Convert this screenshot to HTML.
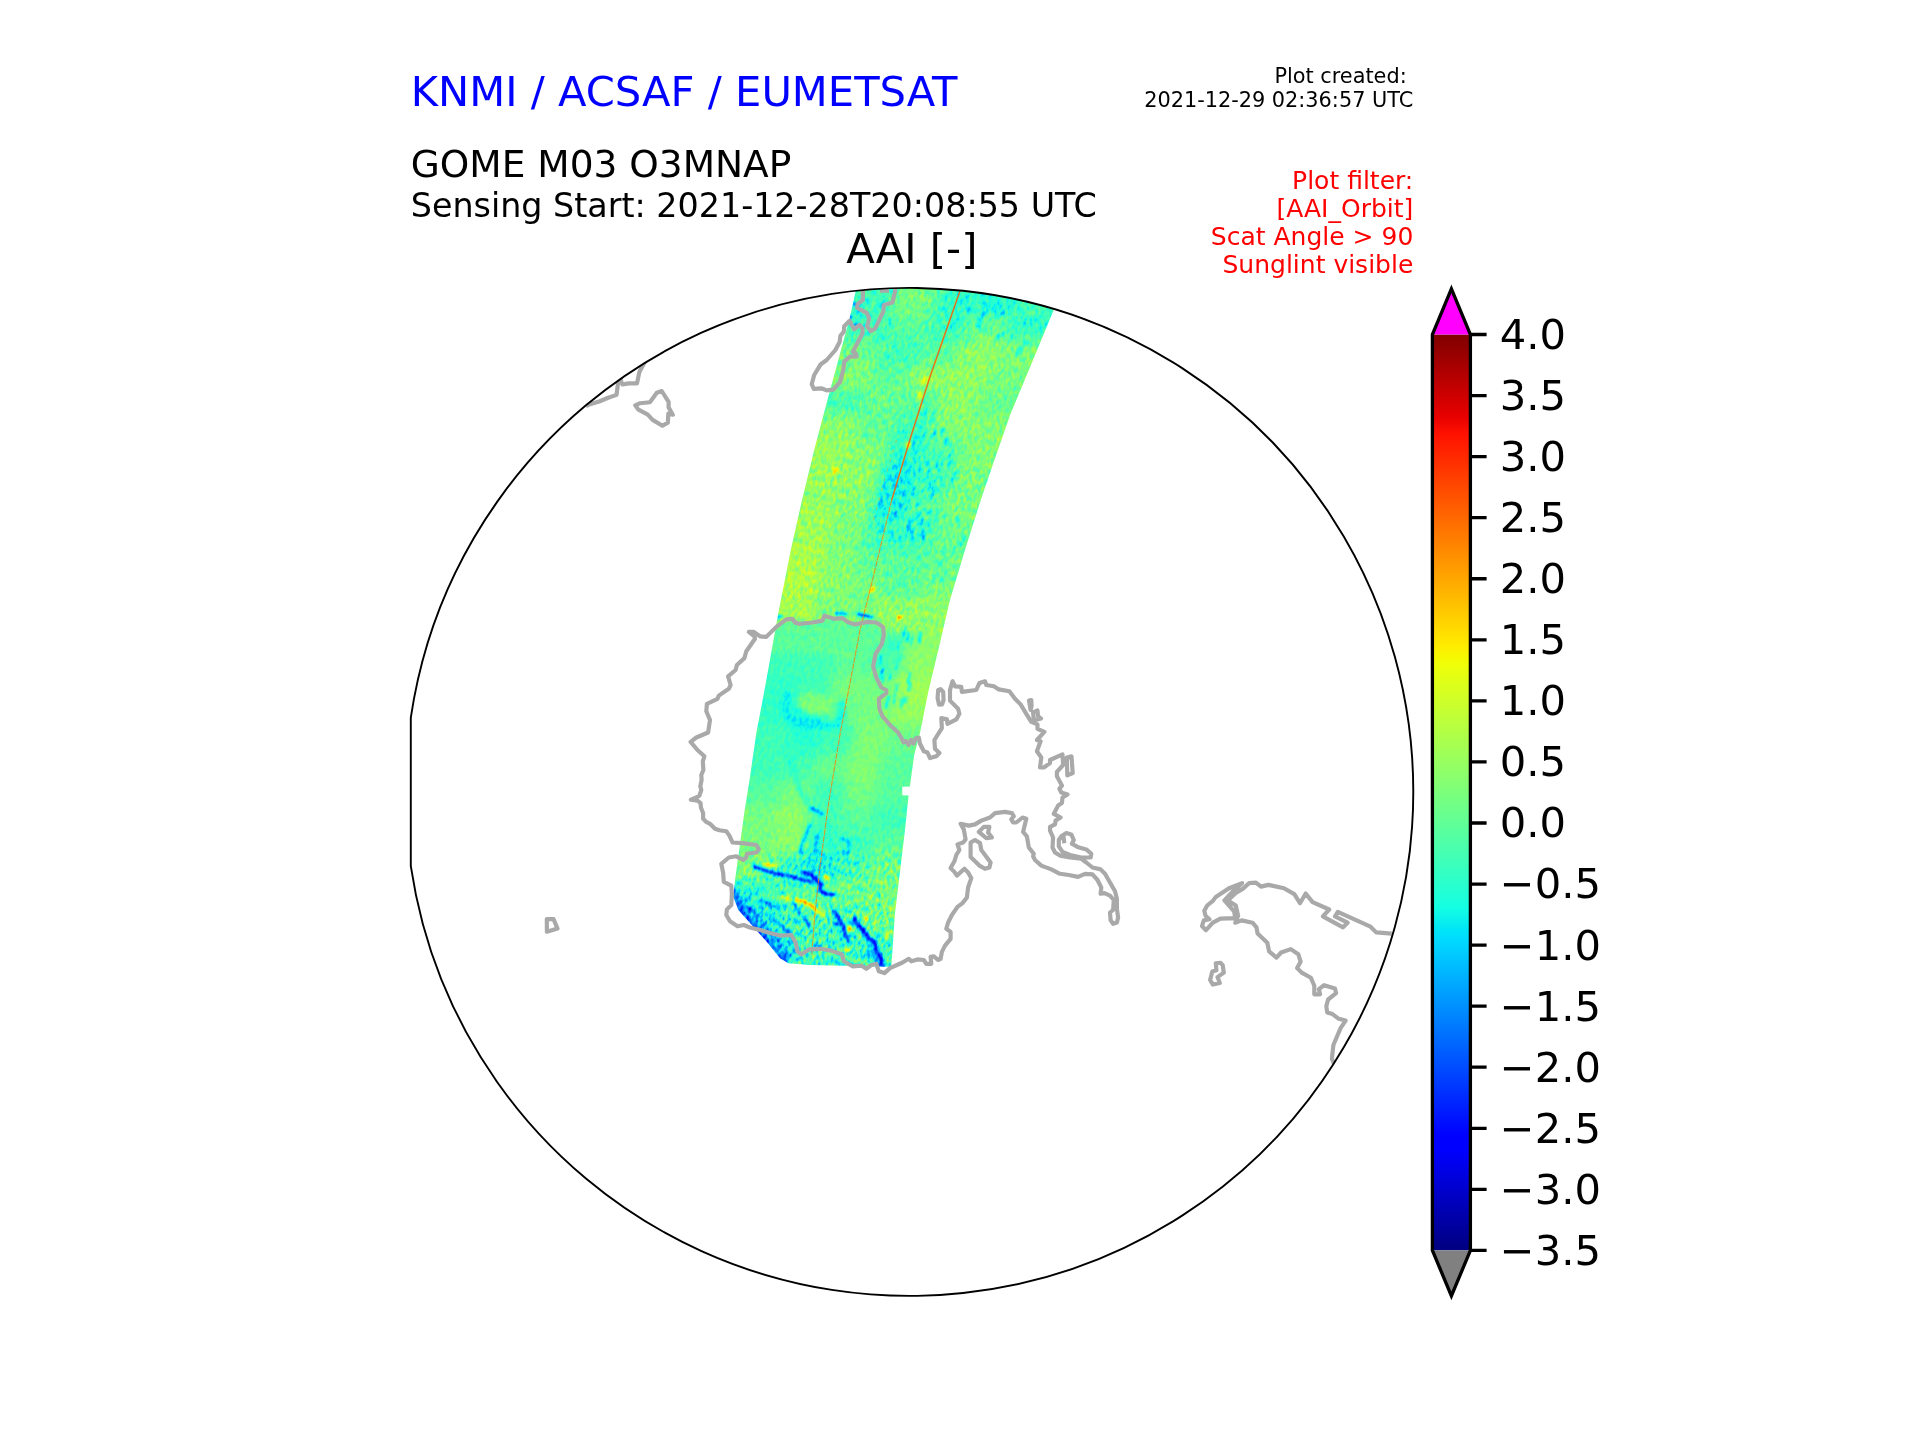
<!DOCTYPE html>
<html lang="en"><head><meta charset="utf-8"><title>AAI [-]</title>
<style>
html,body{margin:0;padding:0;background:#fff;}
body{width:1920px;height:1440px;overflow:hidden;}
svg{display:block;}
text{font-family:"DejaVu Sans","Liberation Sans",sans-serif;}
</style></head><body>
<svg width="1920" height="1440" viewBox="0 0 1920 1440">
<defs>
<linearGradient id="jet" x1="0" y1="0" x2="0" y2="1"><stop offset="0.0000" stop-color="#800000"/><stop offset="0.0900" stop-color="#e80000"/><stop offset="0.1100" stop-color="#ff1300"/><stop offset="0.3400" stop-color="#ffec00"/><stop offset="0.3500" stop-color="#f7f600"/><stop offset="0.3600" stop-color="#efff08"/><stop offset="0.6250" stop-color="#15ffe2"/><stop offset="0.6500" stop-color="#00e5f7"/><stop offset="0.6600" stop-color="#00dbff"/><stop offset="0.8750" stop-color="#0000ff"/><stop offset="0.8900" stop-color="#0000ff"/><stop offset="1.0000" stop-color="#000080"/></linearGradient>
<clipPath id="mapclip"><path d="M410.8 717.6 A504.0 504.0 0 1 1 410.8 866.2 Z"/></clipPath>
<clipPath id="swclip"><path d="M866.0 250.0 L855.3 292.5 L850.0 316.7 L828.3 396.7 L815.0 446.7 L802.0 500.0 L790.8 550.0 L778.3 613.3 L771.7 650.0 L764.2 691.7 L756.3 733.0 L750.0 776.7 L744.2 813.3 L739.2 850.0 L735.0 880.0 L733.3 896.7 L738.3 910.0 L753.3 926.7 L766.7 941.7 L780.0 958.3 L788.3 963.3 L810.0 965.0 L843.3 965.8 L881.7 966.7 L891.3 966.7 L895.0 913.3 L900.0 871.7 L905.0 830.0 L908.6 795.6 L902.3 795.3 L902.3 786.7 L909.9 786.4 L914.2 755.0 L920.0 733.0 L928.3 691.7 L938.3 650.0 L950.0 600.0 L965.0 550.0 L980.8 500.0 L993.3 463.3 L1010.8 413.3 L1031.7 363.3 L1053.7 310.0 L1078.0 250.0 Z"/></clipPath>
<filter id="jetmap" filterUnits="userSpaceOnUse" x="560" y="180" width="680" height="900" color-interpolation-filters="sRGB">
<feColorMatrix in="SourceGraphic" type="matrix" values="1 0 0 0 0  1 0 0 0 0  1 0 0 0 0  0 0 0 0 1" result="V"/>
<feColorMatrix in="SourceGraphic" type="matrix" values="0 1 0 0 0  0 1 0 0 0  0 1 0 0 0  0 0 0 0 1" result="A"/>
<feTurbulence type="fractalNoise" baseFrequency="0.33 0.17" numOctaves="2" seed="7" result="n"/>
<feColorMatrix in="n" type="matrix" values="1 0 0 0 0  1 0 0 0 0  1 0 0 0 0  0 0 0 0 1" result="ng"/>
<feComposite in="V" in2="A" operator="arithmetic" k1="0" k2="1" k3="-0.35" k4="0" result="s1"/>
<feComposite in="A" in2="ng" operator="arithmetic" k1="1" k2="0" k3="0" k4="0" result="nA"/>
<feComposite in="s1" in2="nA" operator="arithmetic" k1="0" k2="1" k3="0.7" k4="0" result="s"/>
<feComponentTransfer in="s"><feFuncR type="table" tableValues="0.000 0.000 0.000 0.000 0.000 0.000 0.000 0.000 0.000 0.000 0.000 0.000 0.000 0.000 0.000 0.000 0.000 0.000 0.000 0.000 0.000 0.000 0.000 0.049 0.100 0.151 0.202 0.253 0.305 0.356 0.407 0.458 0.509 0.561 0.612 0.663 0.714 0.765 0.817 0.868 0.919 0.970 1.000 1.000 1.000 1.000 1.000 1.000 1.000 1.000 1.000 1.000 1.000 1.000 1.000 1.000 1.000 0.933 0.861 0.789 0.716 0.644 0.572 0.500"/><feFuncG type="table" tableValues="0.000 0.000 0.000 0.000 0.000 0.000 0.000 0.000 0.008 0.071 0.135 0.198 0.262 0.325 0.389 0.452 0.516 0.579 0.643 0.706 0.770 0.833 0.897 0.960 1.000 1.000 1.000 1.000 1.000 1.000 1.000 1.000 1.000 1.000 1.000 1.000 1.000 1.000 1.000 1.000 1.000 0.960 0.901 0.842 0.784 0.725 0.666 0.607 0.549 0.490 0.431 0.372 0.313 0.255 0.196 0.137 0.078 0.019 0.000 0.000 0.000 0.000 0.000 0.000"/><feFuncB type="table" tableValues="0.500 0.572 0.644 0.716 0.789 0.861 0.933 1.000 1.000 1.000 1.000 1.000 1.000 1.000 1.000 1.000 1.000 1.000 1.000 1.000 1.000 1.000 0.970 0.919 0.868 0.817 0.765 0.714 0.663 0.612 0.561 0.509 0.458 0.407 0.356 0.305 0.253 0.202 0.151 0.100 0.049 0.000 0.000 0.000 0.000 0.000 0.000 0.000 0.000 0.000 0.000 0.000 0.000 0.000 0.000 0.000 0.000 0.000 0.000 0.000 0.000 0.000 0.000 0.000"/><feFuncA type="linear" slope="0" intercept="1"/></feComponentTransfer>
</filter>
<filter id="bl6" filterUnits="userSpaceOnUse" x="660" y="230" width="480" height="780"><feGaussianBlur stdDeviation="6"/></filter>
<filter id="bl1" filterUnits="userSpaceOnUse" x="660" y="230" width="480" height="780"><feGaussianBlur stdDeviation="1"/></filter>
<filter id="bl3" filterUnits="userSpaceOnUse" x="660" y="230" width="480" height="780"><feGaussianBlur stdDeviation="2.5"/></filter>
</defs>
<rect width="1920" height="1440" fill="#fff"/>
<g clip-path="url(#mapclip)">
<g clip-path="url(#swclip)"><g transform="rotate(14 900 630)" filter="url(#jetmap)"><g transform="rotate(-14 900 630)"><g filter="url(#bl6)"><rect x="460" y="100" width="880" height="1060" fill="#7e5900"/><path d="M799 265 L905 265 L898 290 L794 290 Z" fill="#6d5900"/><path d="M904 265 L947 265 L939 290 L897 290 Z" fill="#7e5900"/><path d="M946 265 L989 265 L980 290 L938 290 Z" fill="#695900"/><path d="M988 265 L1030 265 L1021 290 L979 290 Z" fill="#665900"/><path d="M1030 265 L1135 265 L1124 290 L1021 290 Z" fill="#6d5900"/><path d="M794 290 L898 290 L891 316 L790 316 Z" fill="#6d5900"/><path d="M897 290 L939 290 L931 316 L891 316 Z" fill="#7e5900"/><path d="M938 290 L980 290 L972 316 L931 316 Z" fill="#695900"/><path d="M979 290 L1021 290 L1012 316 L971 316 Z" fill="#665900"/><path d="M1021 290 L1124 290 L1113 316 L1011 316 Z" fill="#6d5900"/><path d="M790 315 L891 315 L884 340 L784 340 Z" fill="#6d5900"/><path d="M891 315 L931 315 L923 340 L883 340 Z" fill="#745900"/><path d="M931 315 L972 315 L963 340 L923 340 Z" fill="#6d5900"/><path d="M971 315 L1012 315 L1002 340 L962 340 Z" fill="#7a5900"/><path d="M1011 315 L1113 315 L1101 340 L1002 340 Z" fill="#695900"/><path d="M784 340 L884 340 L876 366 L779 366 Z" fill="#7a5900"/><path d="M883 340 L923 340 L915 366 L876 366 Z" fill="#6d5900"/><path d="M923 340 L963 340 L954 366 L915 366 Z" fill="#745900"/><path d="M962 340 L1002 340 L993 366 L953 366 Z" fill="#855900"/><path d="M1002 340 L1101 340 L1090 366 L992 366 Z" fill="#815900"/><path d="M779 365 L876 365 L869 390 L773 390 Z" fill="#815900"/><path d="M876 365 L915 365 L907 390 L868 390 Z" fill="#775900"/><path d="M915 365 L954 365 L945 390 L906 390 Z" fill="#855900"/><path d="M953 365 L993 365 L983 390 L944 390 Z" fill="#855900"/><path d="M992 365 L1090 365 L1078 390 L982 390 Z" fill="#7e5900"/><path d="M773 390 L869 390 L861 416 L767 416 Z" fill="#705900"/><path d="M868 390 L907 390 L899 416 L861 416 Z" fill="#7a5900"/><path d="M906 390 L945 390 L936 416 L898 416 Z" fill="#745900"/><path d="M944 390 L983 390 L973 416 L935 416 Z" fill="#855900"/><path d="M982 390 L1078 390 L1067 416 L973 416 Z" fill="#7a5900"/><path d="M767 415 L861 415 L854 440 L761 440 Z" fill="#855900"/><path d="M861 415 L899 415 L891 440 L854 440 Z" fill="#775900"/><path d="M898 415 L936 415 L928 440 L891 440 Z" fill="#6d5900"/><path d="M935 415 L973 415 L965 440 L928 440 Z" fill="#815900"/><path d="M973 415 L1067 415 L1057 440 L965 440 Z" fill="#815900"/><path d="M761 440 L854 440 L847 466 L756 466 Z" fill="#885900"/><path d="M854 440 L891 440 L884 466 L847 466 Z" fill="#815900"/><path d="M891 440 L928 440 L920 466 L883 466 Z" fill="#665900"/><path d="M928 440 L965 440 L957 466 L920 466 Z" fill="#745900"/><path d="M965 440 L1057 440 L1048 466 L956 466 Z" fill="#815900"/><path d="M756 465 L847 465 L841 490 L751 490 Z" fill="#886900"/><path d="M847 465 L884 465 L877 490 L840 490 Z" fill="#856900"/><path d="M883 465 L920 465 L913 490 L876 490 Z" fill="#5f6900"/><path d="M920 465 L957 465 L949 490 L912 490 Z" fill="#706900"/><path d="M956 465 L1048 465 L1039 490 L948 490 Z" fill="#7e6900"/><path d="M751 490 L841 490 L833 520 L744 520 Z" fill="#886900"/><path d="M840 490 L877 490 L869 520 L833 520 Z" fill="#816900"/><path d="M876 490 L913 490 L904 520 L868 520 Z" fill="#636900"/><path d="M912 490 L949 490 L940 520 L904 520 Z" fill="#746900"/><path d="M948 490 L1039 490 L1028 520 L939 520 Z" fill="#7e6900"/><path d="M744 520 L833 520 L826 550 L739 550 Z" fill="#8b5900"/><path d="M833 520 L869 520 L861 550 L826 550 Z" fill="#805900"/><path d="M868 520 L904 520 L896 550 L860 550 Z" fill="#6d5900"/><path d="M904 520 L940 520 L931 550 L895 550 Z" fill="#6d5900"/><path d="M939 520 L1028 520 L1018 550 L930 550 Z" fill="#7a5900"/><path d="M739 550 L826 550 L821 576 L734 576 Z" fill="#8f5900"/><path d="M826 550 L861 550 L855 576 L820 576 Z" fill="#815900"/><path d="M860 550 L896 550 L889 576 L855 576 Z" fill="#775900"/><path d="M895 550 L931 550 L924 576 L889 576 Z" fill="#745900"/><path d="M930 550 L1018 550 L1009 576 L923 576 Z" fill="#7a5900"/><path d="M734 575 L821 575 L815 600 L730 600 Z" fill="#8f5900"/><path d="M820 575 L855 575 L849 600 L815 600 Z" fill="#835900"/><path d="M855 575 L889 575 L883 600 L849 600 Z" fill="#7e5900"/><path d="M889 575 L924 575 L917 600 L882 600 Z" fill="#745900"/><path d="M923 575 L1009 575 L1001 600 L916 600 Z" fill="#7e5900"/><path d="M730 600 L815 600 L810 626 L726 626 Z" fill="#8b5900"/><path d="M815 600 L849 600 L844 626 L810 626 Z" fill="#835900"/><path d="M849 600 L883 600 L877 626 L843 626 Z" fill="#775900"/><path d="M882 600 L917 600 L911 626 L877 626 Z" fill="#815900"/><path d="M916 600 L1001 600 L995 626 L911 626 Z" fill="#855900"/><path d="M726 625 L810 625 L806 650 L722 650 Z" fill="#702b00"/><path d="M810 625 L844 625 L839 650 L805 650 Z" fill="#7a2b00"/><path d="M843 625 L877 625 L872 650 L838 650 Z" fill="#812b00"/><path d="M877 625 L911 625 L905 650 L872 650 Z" fill="#702b00"/><path d="M911 625 L995 625 L989 650 L905 650 Z" fill="#852b00"/><path d="M722 650 L806 650 L801 676 L718 676 Z" fill="#6d2b00"/><path d="M805 650 L839 650 L834 676 L800 676 Z" fill="#6e2b00"/><path d="M838 650 L872 650 L867 676 L833 676 Z" fill="#772b00"/><path d="M872 650 L905 650 L900 676 L866 676 Z" fill="#702b00"/><path d="M905 650 L989 650 L982 676 L899 676 Z" fill="#852b00"/><path d="M718 675 L801 675 L796 700 L713 700 Z" fill="#692b00"/><path d="M800 675 L834 675 L829 700 L795 700 Z" fill="#6d2b00"/><path d="M833 675 L867 675 L862 700 L828 700 Z" fill="#7e2b00"/><path d="M866 675 L900 675 L894 700 L861 700 Z" fill="#7e2b00"/><path d="M899 675 L982 675 L976 700 L894 700 Z" fill="#8b2b00"/><path d="M713 700 L796 700 L791 726 L709 726 Z" fill="#692b00"/><path d="M795 700 L829 700 L824 726 L791 726 Z" fill="#5f2b00"/><path d="M828 700 L862 700 L857 726 L823 726 Z" fill="#7a2b00"/><path d="M861 700 L894 700 L889 726 L856 726 Z" fill="#7e2b00"/><path d="M894 700 L976 700 L971 726 L889 726 Z" fill="#882b00"/><path d="M709 725 L791 725 L786 756 L705 756 Z" fill="#6d2b00"/><path d="M791 725 L824 725 L818 756 L785 756 Z" fill="#662b00"/><path d="M823 725 L857 725 L850 756 L818 756 Z" fill="#6d2b00"/><path d="M856 725 L889 725 L882 756 L850 756 Z" fill="#812b00"/><path d="M889 725 L971 725 L963 756 L882 756 Z" fill="#7a2b00"/><path d="M705 755 L786 755 L782 780 L701 780 Z" fill="#6d2b00"/><path d="M785 755 L818 755 L814 780 L782 780 Z" fill="#702b00"/><path d="M818 755 L850 755 L847 780 L814 780 Z" fill="#7a2b00"/><path d="M850 755 L882 755 L879 780 L846 780 Z" fill="#812b00"/><path d="M882 755 L963 755 L960 780 L878 780 Z" fill="#742b00"/><path d="M701 780 L782 780 L778 806 L697 806 Z" fill="#742b00"/><path d="M782 780 L814 780 L811 806 L778 806 Z" fill="#7e2b00"/><path d="M814 780 L847 780 L843 806 L810 806 Z" fill="#6d2b00"/><path d="M846 780 L879 780 L876 806 L843 806 Z" fill="#7e2b00"/><path d="M878 780 L960 780 L957 806 L875 806 Z" fill="#742b00"/><path d="M697 805 L778 805 L775 830 L693 830 Z" fill="#7e3300"/><path d="M778 805 L811 805 L808 830 L775 830 Z" fill="#853300"/><path d="M810 805 L843 805 L840 830 L807 830 Z" fill="#6d3300"/><path d="M843 805 L876 805 L873 830 L840 830 Z" fill="#743300"/><path d="M875 805 L957 805 L954 830 L872 830 Z" fill="#6d3300"/><path d="M693 830 L775 830 L772 856 L689 856 Z" fill="#7e3b00"/><path d="M775 830 L808 830 L804 856 L771 856 Z" fill="#853b00"/><path d="M807 830 L840 830 L837 856 L804 856 Z" fill="#693b00"/><path d="M840 830 L873 830 L870 856 L837 856 Z" fill="#6d3b00"/><path d="M872 830 L954 830 L952 856 L869 856 Z" fill="#743b00"/><path d="M689 855 L772 855 L768 880 L686 880 Z" fill="#7e8c00"/><path d="M771 855 L804 855 L801 880 L768 880 Z" fill="#698c00"/><path d="M804 855 L837 855 L834 880 L801 880 Z" fill="#5c8c00"/><path d="M837 855 L870 855 L867 880 L833 880 Z" fill="#6d8c00"/><path d="M869 855 L952 855 L949 880 L866 880 Z" fill="#7a8c00"/><path d="M686 880 L768 880 L766 906 L683 906 Z" fill="#668c00"/><path d="M768 880 L801 880 L798 906 L765 906 Z" fill="#708c00"/><path d="M801 880 L834 880 L831 906 L798 906 Z" fill="#748c00"/><path d="M833 880 L867 880 L864 906 L831 906 Z" fill="#7a8c00"/><path d="M866 880 L949 880 L946 906 L863 906 Z" fill="#7e8c00"/><path d="M683 905 L766 905 L763 930 L681 930 Z" fill="#58b200"/><path d="M765 905 L798 905 L796 930 L763 930 Z" fill="#69b200"/><path d="M798 905 L831 905 L829 930 L796 930 Z" fill="#70b200"/><path d="M831 905 L864 905 L862 930 L828 930 Z" fill="#6db200"/><path d="M863 905 L946 905 L944 930 L861 930 Z" fill="#7ab200"/><path d="M681 930 L763 930 L759 976 L676 976 Z" fill="#4eb200"/><path d="M763 930 L796 930 L792 976 L759 976 Z" fill="#63b200"/><path d="M796 930 L829 930 L825 976 L792 976 Z" fill="#6db200"/><path d="M828 930 L862 930 L858 976 L825 976 Z" fill="#69b200"/><path d="M861 930 L944 930 L941 976 L858 976 Z" fill="#6db200"/></g>
<g filter="url(#bl3)"><path d="M772.0 598.0 L815.0 598.0 L815.0 632.0 L766.0 632.0 Z" fill="#8c5900" opacity="0.90"/><path d="M815.0 598.0 L872.0 598.0 L868.0 632.0 L815.0 632.0 Z" fill="#7e5900" opacity="0.90"/><path d="M872.0 598.0 L960.0 598.0 L950.0 632.0 L868.0 632.0 Z" fill="#855900" opacity="0.90"/><path d="M760.0 652.0 L776.3 626.9 L786.3 619.4 L792.5 618.8 L795.0 622.5 L812.5 622.5 L822.5 620.6 L824.4 615.6 L833.8 618.8 L842.5 618.1 L847.5 621.9 L855.0 624.4 L867.5 621.9 L876.3 622.5 L883.1 626.9 L883.8 635.0 L881.9 643.8 L877.0 652.0 Z" fill="#752b00" opacity="0.95"/><path d="M742.0 898.0 L752.0 912.0 L765.0 926.0 L777.0 940.0 L790.0 956.0" fill="none" stroke="#3d9900" stroke-width="7.0" stroke-linecap="round" stroke-linejoin="round" opacity="0.70"/><path d="M787.5 694.0 L783.8 710.0 L792.5 720.0 L805.0 725.0 L817.5 724.0 L830.0 726.3 L838.8 723.8 L841.5 713.0 L841.0 704.0" fill="none" stroke="#572b00" stroke-width="7.0" stroke-linecap="round" stroke-linejoin="round" opacity="0.90"/><ellipse cx="815.0" cy="704.0" rx="18.0" ry="11.0" fill="#832b00" opacity="0.90" transform="rotate(10 815.0 704.0)"/><path d="M790.0 760.0 L800.0 790.0 L812.0 810.0" fill="none" stroke="#553300" stroke-width="3.5" stroke-linecap="round" stroke-linejoin="round" opacity="0.80"/></g>
<g filter="url(#bl1)"><path d="M753.7 866.5 L764.7 870.2 L775.7 873.8 L792.2 876.6 L803.2 880.3 L812.0 881.5" fill="none" stroke="#295900" stroke-width="3.6" stroke-linecap="round" stroke-linejoin="round" opacity="1.00"/><path d="M803.2 872.0 L810.5 874.8 L816.0 879.3 L820.6 883.9 L819.7 890.3 L825.2 894.0 L833.4 894.5" fill="none" stroke="#1b5900" stroke-width="3.6" stroke-linecap="round" stroke-linejoin="round" opacity="1.00"/><path d="M764.7 864.2 L776.6 866.0" fill="none" stroke="#b15900" stroke-width="3.0" stroke-linecap="round" stroke-linejoin="round" opacity="1.00"/><ellipse cx="826.5" cy="877.5" rx="2.0" ry="2.5" fill="#d65900" opacity="1.00" transform="rotate(0 826.5 877.5)"/><path d="M782.1 896.8 L790.3 899.5" fill="none" stroke="#a75900" stroke-width="3.0" stroke-linecap="round" stroke-linejoin="round" opacity="1.00"/><path d="M797.0 900.0 L803.2 901.3 L810.5 905.0 L815.1 909.6" fill="none" stroke="#c25900" stroke-width="3.4" stroke-linecap="round" stroke-linejoin="round" opacity="1.00"/><path d="M815.1 909.6 L824.3 916.0" fill="none" stroke="#ad5900" stroke-width="3.0" stroke-linecap="round" stroke-linejoin="round" opacity="1.00"/><path d="M733.5 888.0 L736.0 902.0 L745.0 916.0 L757.0 929.0 L768.0 942.0 L779.0 955.0 L786.0 962.0" fill="none" stroke="#298c00" stroke-width="5.0" stroke-linecap="round" stroke-linejoin="round" opacity="0.85"/><path d="M761.0 900.4 L779.3 909.6" fill="none" stroke="#3d5900" stroke-width="3.0" stroke-linecap="round" stroke-linejoin="round" opacity="1.00"/><path d="M794.9 904.1 L799.5 914.2" fill="none" stroke="#3a5900" stroke-width="3.0" stroke-linecap="round" stroke-linejoin="round" opacity="1.00"/><path d="M805.0 918.8 L809.6 926.1" fill="none" stroke="#335900" stroke-width="3.0" stroke-linecap="round" stroke-linejoin="round" opacity="1.00"/><path d="M770.0 915.0 L785.0 930.0 L797.0 948.0" fill="none" stroke="#475900" stroke-width="3.0" stroke-linecap="round" stroke-linejoin="round" opacity="0.80"/><path d="M782.0 925.0 L795.0 942.0" fill="none" stroke="#415900" stroke-width="2.5" stroke-linecap="round" stroke-linejoin="round" opacity="0.80"/><path d="M834.3 911.4 L840.8 921.5 L843.5 926.1 L845.3 935.2 L848.1 940.8" fill="none" stroke="#225900" stroke-width="3.6" stroke-linecap="round" stroke-linejoin="round" opacity="1.00"/><path d="M833.4 923.3 L843.5 926.1" fill="none" stroke="#335900" stroke-width="3.0" stroke-linecap="round" stroke-linejoin="round" opacity="1.00"/><path d="M854.5 918.8 L856.3 924.3 L862.8 928.8 L867.3 937.1 L874.7 942.6 L875.6 949.9 L880.2 957.3 L882.9 966.4" fill="none" stroke="#1f5900" stroke-width="4.2" stroke-linecap="round" stroke-linejoin="round" opacity="1.00"/><path d="M867.3 950.8 L868.2 956.3" fill="none" stroke="#335900" stroke-width="3.0" stroke-linecap="round" stroke-linejoin="round" opacity="1.00"/><path d="M872.0 952.0 L878.0 964.0" fill="none" stroke="#3a5900" stroke-width="3.0" stroke-linecap="round" stroke-linejoin="round" opacity="0.80"/><ellipse cx="849.9" cy="928.8" rx="1.8" ry="3.0" fill="#cc5900" opacity="1.00" transform="rotate(-20 849.9 928.8)"/><ellipse cx="866.4" cy="918.8" rx="1.5" ry="3.0" fill="#c55900" opacity="1.00" transform="rotate(-20 866.4 918.8)"/><ellipse cx="846.5" cy="950.0" rx="3.5" ry="2.0" fill="#b45900" opacity="1.00" transform="rotate(0 846.5 950.0)"/><ellipse cx="886.6" cy="936.2" rx="1.5" ry="3.0" fill="#b15900" opacity="1.00" transform="rotate(0 886.6 936.2)"/><ellipse cx="882.0" cy="894.9" rx="1.5" ry="3.0" fill="#b15900" opacity="1.00" transform="rotate(0 882.0 894.9)"/><path d="M814.2 945.3 L821.5 946.2" fill="none" stroke="#415900" stroke-width="3.0" stroke-linecap="round" stroke-linejoin="round" opacity="1.00"/><ellipse cx="801.3" cy="852.8" rx="3.0" ry="2.5" fill="#475900" opacity="1.00" transform="rotate(0 801.3 852.8)"/><ellipse cx="816.0" cy="851.0" rx="3.0" ry="2.5" fill="#475900" opacity="1.00" transform="rotate(0 816.0 851.0)"/><ellipse cx="845.3" cy="852.8" rx="3.0" ry="2.5" fill="#475900" opacity="1.00" transform="rotate(0 845.3 852.8)"/><path d="M878.3 892.2 L881.1 898.6" fill="none" stroke="#3a5900" stroke-width="2.5" stroke-linecap="round" stroke-linejoin="round" opacity="1.00"/><path d="M812.0 808.0 L822.0 814.0" fill="none" stroke="#3a5900" stroke-width="3.0" stroke-linecap="round" stroke-linejoin="round" opacity="0.90"/><path d="M800.0 850.0 L806.0 835.0 L810.0 825.0" fill="none" stroke="#415900" stroke-width="3.0" stroke-linecap="round" stroke-linejoin="round" opacity="0.90"/><path d="M815.0 845.0 L818.0 835.0" fill="none" stroke="#415900" stroke-width="3.0" stroke-linecap="round" stroke-linejoin="round" opacity="0.90"/><path d="M842.0 838.0 L850.0 843.0 L848.0 853.0" fill="none" stroke="#4b5900" stroke-width="3.5" stroke-linecap="round" stroke-linejoin="round" opacity="0.90"/><path d="M836.0 613.0 L846.0 614.0" fill="none" stroke="#415900" stroke-width="3.0" stroke-linecap="round" stroke-linejoin="round" opacity="0.90"/><path d="M858.0 614.0 L872.0 617.0" fill="none" stroke="#2c5900" stroke-width="3.0" stroke-linecap="round" stroke-linejoin="round" opacity="0.90"/><ellipse cx="900.0" cy="617.0" rx="3.0" ry="2.0" fill="#bb5900" opacity="1.00" transform="rotate(0 900.0 617.0)"/><path d="M774.0 619.0 L781.0 616.0" fill="none" stroke="#445900" stroke-width="3.0" stroke-linecap="round" stroke-linejoin="round" opacity="0.90"/><ellipse cx="925.0" cy="380.0" rx="2.5" ry="4.0" fill="#aa5900" opacity="0.90" transform="rotate(15 925.0 380.0)"/><ellipse cx="920.0" cy="395.0" rx="2.5" ry="4.0" fill="#aa5900" opacity="0.90" transform="rotate(15 920.0 395.0)"/><ellipse cx="908.0" cy="445.0" rx="2.5" ry="4.0" fill="#aa5900" opacity="0.90" transform="rotate(15 908.0 445.0)"/><ellipse cx="872.0" cy="590.0" rx="2.5" ry="4.0" fill="#aa5900" opacity="0.90" transform="rotate(15 872.0 590.0)"/><ellipse cx="835.0" cy="470.0" rx="2.5" ry="4.0" fill="#aa5900" opacity="0.90" transform="rotate(15 835.0 470.0)"/><ellipse cx="854.5" cy="304.0" rx="2.2" ry="2.2" fill="#3d5900" opacity="1.00" transform="rotate(0 854.5 304.0)"/><ellipse cx="851.0" cy="317.0" rx="2.2" ry="2.2" fill="#3a5900" opacity="1.00" transform="rotate(0 851.0 317.0)"/><ellipse cx="863.0" cy="316.0" rx="2.2" ry="2.2" fill="#555900" opacity="1.00" transform="rotate(0 863.0 316.0)"/><ellipse cx="855.5" cy="325.0" rx="2.2" ry="2.2" fill="#445900" opacity="1.00" transform="rotate(0 855.5 325.0)"/><ellipse cx="866.0" cy="300.0" rx="2.2" ry="2.2" fill="#555900" opacity="1.00" transform="rotate(0 866.0 300.0)"/><path d="M914.3 486.8 L911.4 496.3" fill="none" stroke="#415900" stroke-width="1.6" stroke-linecap="round" stroke-linejoin="round" opacity="0.85"/><path d="M919.0 491.0 L917.5 496.1" fill="none" stroke="#435900" stroke-width="1.6" stroke-linecap="round" stroke-linejoin="round" opacity="0.85"/><path d="M929.5 522.0 L928.1 526.6" fill="none" stroke="#3c5900" stroke-width="1.6" stroke-linecap="round" stroke-linejoin="round" opacity="0.85"/><path d="M883.4 524.5 L880.9 532.7" fill="none" stroke="#345900" stroke-width="1.6" stroke-linecap="round" stroke-linejoin="round" opacity="0.85"/><path d="M931.5 495.2 L930.0 500.2" fill="none" stroke="#335900" stroke-width="1.6" stroke-linecap="round" stroke-linejoin="round" opacity="0.85"/><path d="M913.3 529.5 L911.1 536.6" fill="none" stroke="#475900" stroke-width="1.6" stroke-linecap="round" stroke-linejoin="round" opacity="0.85"/><path d="M918.3 502.3 L916.3 509.0" fill="none" stroke="#3c5900" stroke-width="1.6" stroke-linecap="round" stroke-linejoin="round" opacity="0.85"/><path d="M941.1 462.7 L938.4 471.8" fill="none" stroke="#3f5900" stroke-width="1.6" stroke-linecap="round" stroke-linejoin="round" opacity="0.85"/><path d="M953.4 473.2 L950.5 483.1" fill="none" stroke="#3f5900" stroke-width="1.6" stroke-linecap="round" stroke-linejoin="round" opacity="0.85"/><path d="M881.8 497.3 L879.2 506.0" fill="none" stroke="#3b5900" stroke-width="1.6" stroke-linecap="round" stroke-linejoin="round" opacity="0.85"/><path d="M943.7 429.0 L941.1 436.4" fill="none" stroke="#415900" stroke-width="1.6" stroke-linecap="round" stroke-linejoin="round" opacity="0.85"/><path d="M891.9 512.8 L890.5 517.6" fill="none" stroke="#475900" stroke-width="1.6" stroke-linecap="round" stroke-linejoin="round" opacity="0.85"/><path d="M901.6 535.9 L900.0 541.2" fill="none" stroke="#3f5900" stroke-width="1.6" stroke-linecap="round" stroke-linejoin="round" opacity="0.85"/><path d="M941.7 451.9 L939.9 457.7" fill="none" stroke="#355900" stroke-width="1.6" stroke-linecap="round" stroke-linejoin="round" opacity="0.85"/><path d="M896.4 493.1 L894.5 499.3" fill="none" stroke="#415900" stroke-width="1.6" stroke-linecap="round" stroke-linejoin="round" opacity="0.85"/><path d="M924.7 533.1 L923.2 538.2" fill="none" stroke="#385900" stroke-width="1.6" stroke-linecap="round" stroke-linejoin="round" opacity="0.85"/><path d="M896.0 508.7 L894.3 514.2" fill="none" stroke="#4c5900" stroke-width="1.6" stroke-linecap="round" stroke-linejoin="round" opacity="0.85"/><path d="M926.6 446.5 L924.8 451.6" fill="none" stroke="#495900" stroke-width="1.6" stroke-linecap="round" stroke-linejoin="round" opacity="0.85"/><path d="M923.4 531.0 L921.1 538.7" fill="none" stroke="#3c5900" stroke-width="1.6" stroke-linecap="round" stroke-linejoin="round" opacity="0.85"/><path d="M924.5 422.1 L922.3 428.3" fill="none" stroke="#4e5900" stroke-width="1.6" stroke-linecap="round" stroke-linejoin="round" opacity="0.85"/><path d="M934.7 490.5 L933.2 495.4" fill="none" stroke="#345900" stroke-width="1.6" stroke-linecap="round" stroke-linejoin="round" opacity="0.85"/><path d="M916.8 512.6 L915.1 518.5" fill="none" stroke="#525900" stroke-width="1.6" stroke-linecap="round" stroke-linejoin="round" opacity="0.85"/><path d="M938.6 508.5 L936.0 517.3" fill="none" stroke="#4f5900" stroke-width="1.6" stroke-linecap="round" stroke-linejoin="round" opacity="0.85"/><path d="M905.7 505.7 L902.9 515.1" fill="none" stroke="#4e5900" stroke-width="1.6" stroke-linecap="round" stroke-linejoin="round" opacity="0.85"/><path d="M911.3 521.6 L908.5 530.8" fill="none" stroke="#455900" stroke-width="1.6" stroke-linecap="round" stroke-linejoin="round" opacity="0.85"/><path d="M929.0 460.0 L926.8 467.5" fill="none" stroke="#465900" stroke-width="1.6" stroke-linecap="round" stroke-linejoin="round" opacity="0.85"/><path d="M882.5 498.8 L879.5 508.8" fill="none" stroke="#4e5900" stroke-width="1.6" stroke-linecap="round" stroke-linejoin="round" opacity="0.85"/><path d="M937.9 460.9 L935.3 469.3" fill="none" stroke="#455900" stroke-width="1.6" stroke-linecap="round" stroke-linejoin="round" opacity="0.85"/><path d="M913.3 528.9 L911.9 533.4" fill="none" stroke="#4a5900" stroke-width="1.6" stroke-linecap="round" stroke-linejoin="round" opacity="0.85"/><path d="M916.7 437.0 L913.8 445.2" fill="none" stroke="#425900" stroke-width="1.6" stroke-linecap="round" stroke-linejoin="round" opacity="0.85"/><path d="M901.3 504.7 L899.8 509.9" fill="none" stroke="#385900" stroke-width="1.6" stroke-linecap="round" stroke-linejoin="round" opacity="0.85"/><path d="M913.4 536.9 L911.6 542.9" fill="none" stroke="#475900" stroke-width="1.6" stroke-linecap="round" stroke-linejoin="round" opacity="0.85"/><path d="M892.6 467.3 L889.9 476.1" fill="none" stroke="#4f5900" stroke-width="1.6" stroke-linecap="round" stroke-linejoin="round" opacity="0.85"/><path d="M950.9 460.3 L948.6 467.8" fill="none" stroke="#3d5900" stroke-width="1.6" stroke-linecap="round" stroke-linejoin="round" opacity="0.85"/><path d="M887.2 477.2 L884.5 486.2" fill="none" stroke="#4d5900" stroke-width="1.6" stroke-linecap="round" stroke-linejoin="round" opacity="0.85"/><path d="M914.1 443.8 L912.2 449.1" fill="none" stroke="#405900" stroke-width="1.6" stroke-linecap="round" stroke-linejoin="round" opacity="0.85"/><path d="M929.1 476.8 L927.3 482.7" fill="none" stroke="#4d5900" stroke-width="1.6" stroke-linecap="round" stroke-linejoin="round" opacity="0.85"/><path d="M936.2 488.4 L934.4 494.3" fill="none" stroke="#4b5900" stroke-width="1.6" stroke-linecap="round" stroke-linejoin="round" opacity="0.85"/><path d="M946.5 438.1 L944.8 442.9" fill="none" stroke="#345900" stroke-width="1.6" stroke-linecap="round" stroke-linejoin="round" opacity="0.85"/><path d="M929.4 469.7 L927.1 477.4" fill="none" stroke="#475900" stroke-width="1.6" stroke-linecap="round" stroke-linejoin="round" opacity="0.85"/><path d="M934.1 432.3 L931.7 439.2" fill="none" stroke="#385900" stroke-width="1.6" stroke-linecap="round" stroke-linejoin="round" opacity="0.85"/><path d="M936.7 429.3 L934.6 434.9" fill="none" stroke="#3e5900" stroke-width="1.6" stroke-linecap="round" stroke-linejoin="round" opacity="0.85"/><path d="M935.2 480.8 L932.9 488.5" fill="none" stroke="#4a5900" stroke-width="1.6" stroke-linecap="round" stroke-linejoin="round" opacity="0.85"/><path d="M909.2 521.9 L906.4 531.3" fill="none" stroke="#365900" stroke-width="1.6" stroke-linecap="round" stroke-linejoin="round" opacity="0.85"/><path d="M907.8 488.1 L905.0 497.4" fill="none" stroke="#4b5900" stroke-width="1.6" stroke-linecap="round" stroke-linejoin="round" opacity="0.85"/><path d="M956.3 472.3 L954.0 480.2" fill="none" stroke="#395900" stroke-width="1.6" stroke-linecap="round" stroke-linejoin="round" opacity="0.85"/><path d="M930.5 510.6 L928.9 515.9" fill="none" stroke="#4f5900" stroke-width="1.6" stroke-linecap="round" stroke-linejoin="round" opacity="0.85"/><path d="M921.5 521.7 L919.7 527.6" fill="none" stroke="#4f5900" stroke-width="1.6" stroke-linecap="round" stroke-linejoin="round" opacity="0.85"/><path d="M948.8 454.9 L947.4 459.4" fill="none" stroke="#405900" stroke-width="1.6" stroke-linecap="round" stroke-linejoin="round" opacity="0.85"/><path d="M922.7 518.3 L920.6 525.2" fill="none" stroke="#345900" stroke-width="1.6" stroke-linecap="round" stroke-linejoin="round" opacity="0.85"/><path d="M944.0 428.3 L941.8 434.3" fill="none" stroke="#4b5900" stroke-width="1.6" stroke-linecap="round" stroke-linejoin="round" opacity="0.85"/><path d="M919.8 511.5 L917.1 520.6" fill="none" stroke="#485900" stroke-width="1.6" stroke-linecap="round" stroke-linejoin="round" opacity="0.85"/><path d="M894.5 481.8 L892.8 487.5" fill="none" stroke="#495900" stroke-width="1.6" stroke-linecap="round" stroke-linejoin="round" opacity="0.85"/><path d="M930.2 481.2 L927.5 490.3" fill="none" stroke="#445900" stroke-width="1.6" stroke-linecap="round" stroke-linejoin="round" opacity="0.85"/><path d="M902.3 459.8 L899.5 468.9" fill="none" stroke="#4f5900" stroke-width="1.6" stroke-linecap="round" stroke-linejoin="round" opacity="0.85"/><path d="M893.4 530.8 L890.5 540.6" fill="none" stroke="#435900" stroke-width="1.6" stroke-linecap="round" stroke-linejoin="round" opacity="0.85"/><path d="M924.6 432.6 L922.0 439.8" fill="none" stroke="#425900" stroke-width="1.6" stroke-linecap="round" stroke-linejoin="round" opacity="0.85"/><path d="M927.3 406.4 L923.8 416.2" fill="none" stroke="#435900" stroke-width="1.6" stroke-linecap="round" stroke-linejoin="round" opacity="0.85"/><path d="M909.8 523.2 L907.6 530.6" fill="none" stroke="#425900" stroke-width="1.6" stroke-linecap="round" stroke-linejoin="round" opacity="0.85"/><path d="M934.7 412.2 L932.1 419.4" fill="none" stroke="#405900" stroke-width="1.6" stroke-linecap="round" stroke-linejoin="round" opacity="0.85"/><path d="M898.6 473.7 L897.2 478.5" fill="none" stroke="#405900" stroke-width="1.6" stroke-linecap="round" stroke-linejoin="round" opacity="0.85"/><path d="M916.3 450.1 L914.8 455.3" fill="none" stroke="#465900" stroke-width="1.6" stroke-linecap="round" stroke-linejoin="round" opacity="0.85"/><path d="M934.3 450.9 L932.5 457.0" fill="none" stroke="#465900" stroke-width="1.6" stroke-linecap="round" stroke-linejoin="round" opacity="0.85"/><path d="M884.6 512.6 L883.1 517.4" fill="none" stroke="#435900" stroke-width="1.6" stroke-linecap="round" stroke-linejoin="round" opacity="0.85"/><path d="M920.9 468.2 L919.1 474.5" fill="none" stroke="#405900" stroke-width="1.6" stroke-linecap="round" stroke-linejoin="round" opacity="0.85"/><path d="M920.9 426.3 L919.0 431.6" fill="none" stroke="#465900" stroke-width="1.6" stroke-linecap="round" stroke-linejoin="round" opacity="0.85"/><path d="M930.2 482.2 L927.5 491.3" fill="none" stroke="#465900" stroke-width="1.6" stroke-linecap="round" stroke-linejoin="round" opacity="0.85"/><path d="M948.9 437.4 L945.8 445.8" fill="none" stroke="#4c5900" stroke-width="1.6" stroke-linecap="round" stroke-linejoin="round" opacity="0.85"/><path d="M952.8 449.9 L950.7 455.8" fill="none" stroke="#4f5900" stroke-width="1.6" stroke-linecap="round" stroke-linejoin="round" opacity="0.85"/><path d="M896.1 512.0 L894.4 517.5" fill="none" stroke="#365900" stroke-width="1.6" stroke-linecap="round" stroke-linejoin="round" opacity="0.85"/><path d="M1012.3 335.0 L1009.4 343.0" fill="none" stroke="#535900" stroke-width="1.6" stroke-linecap="round" stroke-linejoin="round" opacity="0.85"/><path d="M1024.0 345.5 L1022.5 349.6" fill="none" stroke="#465900" stroke-width="1.6" stroke-linecap="round" stroke-linejoin="round" opacity="0.85"/><path d="M996.9 306.3 L994.5 313.0" fill="none" stroke="#495900" stroke-width="1.6" stroke-linecap="round" stroke-linejoin="round" opacity="0.85"/><path d="M970.9 304.5 L967.7 313.4" fill="none" stroke="#525900" stroke-width="1.6" stroke-linecap="round" stroke-linejoin="round" opacity="0.85"/><path d="M1003.9 331.3 L1002.1 336.3" fill="none" stroke="#535900" stroke-width="1.6" stroke-linecap="round" stroke-linejoin="round" opacity="0.85"/><path d="M1019.1 348.1 L1016.0 356.5" fill="none" stroke="#425900" stroke-width="1.6" stroke-linecap="round" stroke-linejoin="round" opacity="0.85"/><path d="M986.1 301.6 L984.4 306.4" fill="none" stroke="#3c5900" stroke-width="1.6" stroke-linecap="round" stroke-linejoin="round" opacity="0.85"/><path d="M980.1 327.0 L978.7 331.0" fill="none" stroke="#4c5900" stroke-width="1.6" stroke-linecap="round" stroke-linejoin="round" opacity="0.85"/><path d="M983.8 310.0 L980.9 318.1" fill="none" stroke="#475900" stroke-width="1.6" stroke-linecap="round" stroke-linejoin="round" opacity="0.85"/><path d="M981.6 319.9 L978.9 327.4" fill="none" stroke="#3b5900" stroke-width="1.6" stroke-linecap="round" stroke-linejoin="round" opacity="0.85"/><path d="M1025.0 341.0 L1023.5 345.1" fill="none" stroke="#4f5900" stroke-width="1.6" stroke-linecap="round" stroke-linejoin="round" opacity="0.85"/><path d="M986.6 325.6 L985.2 329.6" fill="none" stroke="#3b5900" stroke-width="1.6" stroke-linecap="round" stroke-linejoin="round" opacity="0.85"/><path d="M969.7 335.8 L966.5 344.5" fill="none" stroke="#535900" stroke-width="1.6" stroke-linecap="round" stroke-linejoin="round" opacity="0.85"/><path d="M984.4 312.6 L982.1 319.2" fill="none" stroke="#4f5900" stroke-width="1.6" stroke-linecap="round" stroke-linejoin="round" opacity="0.85"/><path d="M1029.7 341.9 L1028.2 346.0" fill="none" stroke="#545900" stroke-width="1.6" stroke-linecap="round" stroke-linejoin="round" opacity="0.85"/><path d="M959.1 311.8 L956.6 318.8" fill="none" stroke="#535900" stroke-width="1.6" stroke-linecap="round" stroke-linejoin="round" opacity="0.85"/><path d="M1004.5 310.1 L1002.5 315.7" fill="none" stroke="#3f5900" stroke-width="1.6" stroke-linecap="round" stroke-linejoin="round" opacity="0.85"/><path d="M957.8 300.6 L955.1 308.1" fill="none" stroke="#555900" stroke-width="1.6" stroke-linecap="round" stroke-linejoin="round" opacity="0.85"/><path d="M966.2 294.8 L962.9 303.7" fill="none" stroke="#485900" stroke-width="1.6" stroke-linecap="round" stroke-linejoin="round" opacity="0.85"/><path d="M990.6 305.8 L988.1 312.7" fill="none" stroke="#505900" stroke-width="1.6" stroke-linecap="round" stroke-linejoin="round" opacity="0.85"/><path d="M995.6 316.5 L994.0 320.7" fill="none" stroke="#535900" stroke-width="1.6" stroke-linecap="round" stroke-linejoin="round" opacity="0.85"/><path d="M953.3 320.6 L950.3 328.8" fill="none" stroke="#3d5900" stroke-width="1.6" stroke-linecap="round" stroke-linejoin="round" opacity="0.85"/><path d="M1023.2 347.1 L1020.6 354.2" fill="none" stroke="#4f5900" stroke-width="1.6" stroke-linecap="round" stroke-linejoin="round" opacity="0.85"/><path d="M960.7 317.2 L959.0 322.0" fill="none" stroke="#515900" stroke-width="1.6" stroke-linecap="round" stroke-linejoin="round" opacity="0.85"/><path d="M979.5 318.3 L976.2 327.3" fill="none" stroke="#515900" stroke-width="1.6" stroke-linecap="round" stroke-linejoin="round" opacity="0.85"/><path d="M998.8 334.3 L996.5 340.7" fill="none" stroke="#425900" stroke-width="1.6" stroke-linecap="round" stroke-linejoin="round" opacity="0.85"/><path d="M990.4 300.5 L988.3 306.4" fill="none" stroke="#555900" stroke-width="1.6" stroke-linecap="round" stroke-linejoin="round" opacity="0.85"/><path d="M999.9 311.6 L998.3 316.1" fill="none" stroke="#415900" stroke-width="1.6" stroke-linecap="round" stroke-linejoin="round" opacity="0.85"/><path d="M900.8 654.9 L899.5 660.8" fill="none" stroke="#505900" stroke-width="1.6" stroke-linecap="round" stroke-linejoin="round" opacity="0.85"/><path d="M920.4 631.5 L918.5 640.3" fill="none" stroke="#485900" stroke-width="1.6" stroke-linecap="round" stroke-linejoin="round" opacity="0.85"/><path d="M881.8 655.3 L879.7 665.2" fill="none" stroke="#425900" stroke-width="1.6" stroke-linecap="round" stroke-linejoin="round" opacity="0.85"/><path d="M912.6 637.6 L911.2 644.2" fill="none" stroke="#375900" stroke-width="1.6" stroke-linecap="round" stroke-linejoin="round" opacity="0.85"/><path d="M902.8 698.9 L900.8 708.0" fill="none" stroke="#4d5900" stroke-width="1.6" stroke-linecap="round" stroke-linejoin="round" opacity="0.85"/><path d="M897.3 684.7 L896.0 690.4" fill="none" stroke="#3d5900" stroke-width="1.6" stroke-linecap="round" stroke-linejoin="round" opacity="0.85"/><path d="M910.3 683.1 L908.6 691.0" fill="none" stroke="#365900" stroke-width="1.6" stroke-linecap="round" stroke-linejoin="round" opacity="0.85"/><path d="M892.0 641.8 L890.5 648.8" fill="none" stroke="#4f5900" stroke-width="1.6" stroke-linecap="round" stroke-linejoin="round" opacity="0.85"/><path d="M889.0 695.9 L886.5 707.1" fill="none" stroke="#355900" stroke-width="1.6" stroke-linecap="round" stroke-linejoin="round" opacity="0.85"/><path d="M897.0 664.3 L895.9 669.5" fill="none" stroke="#415900" stroke-width="1.6" stroke-linecap="round" stroke-linejoin="round" opacity="0.85"/><path d="M920.8 634.0 L918.8 643.1" fill="none" stroke="#375900" stroke-width="1.6" stroke-linecap="round" stroke-linejoin="round" opacity="0.85"/><path d="M906.0 696.6 L904.6 703.0" fill="none" stroke="#335900" stroke-width="1.6" stroke-linecap="round" stroke-linejoin="round" opacity="0.85"/><path d="M883.8 668.2 L882.6 673.3" fill="none" stroke="#365900" stroke-width="1.6" stroke-linecap="round" stroke-linejoin="round" opacity="0.85"/><path d="M902.4 698.7 L900.6 706.6" fill="none" stroke="#415900" stroke-width="1.6" stroke-linecap="round" stroke-linejoin="round" opacity="0.85"/><path d="M908.7 632.5 L906.7 641.5" fill="none" stroke="#395900" stroke-width="1.6" stroke-linecap="round" stroke-linejoin="round" opacity="0.85"/><path d="M882.4 669.4 L880.4 678.6" fill="none" stroke="#385900" stroke-width="1.6" stroke-linecap="round" stroke-linejoin="round" opacity="0.85"/><path d="M890.7 673.9 L889.5 679.2" fill="none" stroke="#3f5900" stroke-width="1.6" stroke-linecap="round" stroke-linejoin="round" opacity="0.85"/><path d="M910.3 672.2 L908.0 682.6" fill="none" stroke="#365900" stroke-width="1.6" stroke-linecap="round" stroke-linejoin="round" opacity="0.85"/><path d="M895.6 694.1 L893.6 703.2" fill="none" stroke="#425900" stroke-width="1.6" stroke-linecap="round" stroke-linejoin="round" opacity="0.85"/><path d="M905.8 626.5 L903.5 637.1" fill="none" stroke="#3e5900" stroke-width="1.6" stroke-linecap="round" stroke-linejoin="round" opacity="0.85"/><path d="M899.5 642.1 L897.7 650.2" fill="none" stroke="#3e5900" stroke-width="1.6" stroke-linecap="round" stroke-linejoin="round" opacity="0.85"/><path d="M884.0 675.4 L882.7 681.1" fill="none" stroke="#4e5900" stroke-width="1.6" stroke-linecap="round" stroke-linejoin="round" opacity="0.85"/><path d="M941.5 559.7 L939.6 566.2" fill="none" stroke="#4c5900" stroke-width="1.6" stroke-linecap="round" stroke-linejoin="round" opacity="0.85"/><path d="M945.1 573.0 L943.0 580.3" fill="none" stroke="#4d5900" stroke-width="1.6" stroke-linecap="round" stroke-linejoin="round" opacity="0.85"/><path d="M985.6 500.2 L984.1 505.1" fill="none" stroke="#425900" stroke-width="1.6" stroke-linecap="round" stroke-linejoin="round" opacity="0.85"/><path d="M940.8 576.3 L939.5 580.8" fill="none" stroke="#575900" stroke-width="1.6" stroke-linecap="round" stroke-linejoin="round" opacity="0.85"/><path d="M961.7 541.8 L960.1 547.1" fill="none" stroke="#4c5900" stroke-width="1.6" stroke-linecap="round" stroke-linejoin="round" opacity="0.85"/><path d="M984.6 497.1 L982.3 505.0" fill="none" stroke="#565900" stroke-width="1.6" stroke-linecap="round" stroke-linejoin="round" opacity="0.85"/><path d="M987.9 496.1 L985.6 503.8" fill="none" stroke="#565900" stroke-width="1.6" stroke-linecap="round" stroke-linejoin="round" opacity="0.85"/><path d="M958.7 517.5 L956.9 523.3" fill="none" stroke="#4a5900" stroke-width="1.6" stroke-linecap="round" stroke-linejoin="round" opacity="0.85"/><path d="M964.7 533.9 L962.9 540.1" fill="none" stroke="#525900" stroke-width="1.6" stroke-linecap="round" stroke-linejoin="round" opacity="0.85"/><path d="M945.5 549.2 L943.7 555.4" fill="none" stroke="#4f5900" stroke-width="1.6" stroke-linecap="round" stroke-linejoin="round" opacity="0.85"/><path d="M954.3 547.6 L952.7 552.9" fill="none" stroke="#435900" stroke-width="1.6" stroke-linecap="round" stroke-linejoin="round" opacity="0.85"/><path d="M934.6 575.8 L932.5 582.9" fill="none" stroke="#4a5900" stroke-width="1.6" stroke-linecap="round" stroke-linejoin="round" opacity="0.85"/><path d="M991.3 491.1 L990.0 495.4" fill="none" stroke="#545900" stroke-width="1.6" stroke-linecap="round" stroke-linejoin="round" opacity="0.85"/><path d="M988.6 476.8 L987.1 481.8" fill="none" stroke="#475900" stroke-width="1.6" stroke-linecap="round" stroke-linejoin="round" opacity="0.85"/><path d="M858.1 321.8 L856.6 325.9" fill="none" stroke="#4d5900" stroke-width="1.6" stroke-linecap="round" stroke-linejoin="round" opacity="0.85"/><path d="M879.4 302.6 L878.3 305.7" fill="none" stroke="#525900" stroke-width="1.6" stroke-linecap="round" stroke-linejoin="round" opacity="0.85"/><path d="M859.3 309.4 L857.1 315.4" fill="none" stroke="#4a5900" stroke-width="1.6" stroke-linecap="round" stroke-linejoin="round" opacity="0.85"/><path d="M891.0 319.1 L889.2 324.0" fill="none" stroke="#445900" stroke-width="1.6" stroke-linecap="round" stroke-linejoin="round" opacity="0.85"/><path d="M879.9 334.7 L878.3 339.3" fill="none" stroke="#505900" stroke-width="1.6" stroke-linecap="round" stroke-linejoin="round" opacity="0.85"/><path d="M881.9 302.6 L880.0 307.8" fill="none" stroke="#4d5900" stroke-width="1.6" stroke-linecap="round" stroke-linejoin="round" opacity="0.85"/><path d="M861.6 301.2 L859.6 306.8" fill="none" stroke="#4a5900" stroke-width="1.6" stroke-linecap="round" stroke-linejoin="round" opacity="0.85"/><path d="M884.5 335.2 L882.7 340.3" fill="none" stroke="#535900" stroke-width="1.6" stroke-linecap="round" stroke-linejoin="round" opacity="0.85"/></g></g></g>
<path d="M968.0 268.0 L959.7 291.7 L930.0 376.7 L910.8 436.7 L891.7 500.0" fill="none" stroke="#ff5a00" stroke-width="1.5" opacity="0.85"/><path d="M891.7 500.0 L871.7 583.3 L860.0 630.0 L850.0 683.3 L840.8 730.0 L828.3 805.0 L820.0 866.7 L815.0 913.3 L811.7 955.0" fill="none" stroke="#ff7a00" stroke-width="1.1" opacity="0.75" stroke-dasharray="6 1"/><path d="M896.5 440 L888 468 L879 500 L872 526" fill="none" stroke="#ffa000" stroke-width="1.2" opacity="0.45" stroke-dasharray="3 7"/></g>

<path d="M697.5 750.0 704.4 756.3 702.8 761.3 703.4 770.0 701.3 775.0 701.6 780.0 700.3 786.3 701.3 790.0 699.4 795.6 696.3 797.5 690.9 799.7 697.5 800.6 700.6 803.1 700.9 807.5 703.1 813.1 703.1 818.8 706.3 821.9 710.0 823.8 715.0 828.8 719.4 830.3 726.3 831.3 729.4 835.6 732.5 842.5 742.5 843.1 756.3 845.0 758.8 849.4 756.3 852.5 746.9 853.8 746.3 857.5 743.1 860.0 736.3 856.3 728.8 857.5 721.3 863.8 723.1 872.5 723.8 881.9 731.3 885.6 731.9 893.8 731.3 905.0 726.9 909.4 726.3 915.0 730.0 921.3 737.5 926.3 743.8 925.0 750.0 927.5 760.0 930.0 770.0 933.1 780.0 935.6 791.3 935.0 795.6 942.5 797.5 951.3 801.3 954.4 808.8 949.4 820.0 948.8 831.3 950.6 841.9 954.4 843.8 961.3 852.5 966.3 861.3 965.6 866.3 968.8 871.3 965.0 876.3 963.8 878.8 971.3 884.4 973.1 890.0 968.1 902.5 962.5 908.8 958.8 911.3 961.3 917.5 959.4 923.8 960.0 926.3 963.8 931.3 963.8 930.6 956.9 933.8 956.3 938.1 960.0 940.6 958.8 941.9 951.9 945.0 945.6 950.6 938.8 950.6 931.9 946.3 928.8 948.1 922.5 951.9 915.0 957.5 906.9 962.5 903.1 966.9 897.5 968.1 887.5 971.3 878.1 968.1 872.5 964.4 868.8 956.9 875.6 954.4 871.9 950.6 868.1 954.4 861.3 956.3 855.0 959.4 850.0 957.5 844.4 963.1 842.5 965.6 839.4 963.8 829.4 960.6 823.8 968.8 825.6 975.0 824.4 981.3 820.6 990.0 817.5 995.0 813.1 1005.0 811.9 1011.9 813.1 1013.8 816.3 1011.3 819.4 1013.1 822.5 1016.3 822.5 1022.5 817.5 1026.3 818.8 1023.1 831.9 1026.9 836.3 1028.8 847.5 1033.8 853.8 1033.1 856.3 1035.0 860.0 1041.3 865.6 1051.3 869.4 1060.0 873.8 1068.8 875.0 1078.1 876.9 1085.0 873.8 1092.5 874.4 1097.5 880.0 1101.3 887.5 1100.6 893.8 1104.4 893.1 1110.0 895.6 1113.8 900.0 1113.1 910.0 1110.0 912.5 1110.6 920.0 1113.1 923.8 1116.9 922.5 1118.1 917.5 1116.9 908.8 1116.9 898.8 1115.0 891.3 1110.0 882.5 1105.0 873.8 1100.6 869.4 1092.5 867.5 1086.3 862.5 1081.3 858.8 1070.0 857.5 1060.0 855.6 1055.0 852.5 1052.5 847.5 1053.1 837.5 1050.0 830.6 1050.0 826.9 1055.0 824.4 1055.6 820.6 1060.6 817.5 1053.8 813.8 1058.1 805.6 1061.9 803.1 1062.5 797.5 1067.5 794.4 1061.3 792.5 1059.4 788.8 1061.9 785.6 1056.9 776.3 1056.9 771.9 1063.1 765.0 1062.5 754.4 1050.0 760.0 1050.0 763.1 1043.8 767.5 1040.0 767.5 1041.3 757.5 1036.9 751.3 1040.6 741.3 1036.9 740.0 1044.4 731.9 1037.5 728.8 1037.5 724.4 1031.3 721.9 1026.3 713.8 1020.6 704.4 1015.0 698.8 1009.4 691.3 998.8 689.4 993.8 686.3 986.3 685.0 985.0 681.3 979.4 683.1 976.3 690.0 961.9 691.9 961.3 686.9 955.0 686.3 952.5 681.3 950.0 690.0 950.0 700.6 958.1 708.8 959.4 713.8 956.3 719.4 947.5 723.8 946.9 719.4 941.3 718.1 941.9 728.1 934.4 740.0 935.0 748.8 939.4 753.1 936.3 756.3 930.0 758.1 927.5 752.5 923.8 751.3 920.0 743.8 918.8 737.5 915.5 738.5 913.5 743.5 911.0 740.0 908.5 745.0 906.0 741.0 903.5 742.5 901.9 738.8 898.1 732.5 891.3 726.3 882.5 716.3 879.4 708.8 878.8 698.8 886.3 693.1 886.3 690.0 881.3 687.5 876.3 677.5 873.1 666.3 875.6 653.8 881.9 643.8 883.8 635.0 883.1 626.9 876.3 622.5 867.5 621.9 855.0 624.4 847.5 621.9 842.5 618.1 833.8 618.8 824.4 615.6 822.5 620.6 812.5 622.5 798.8 623.8 795.0 622.5 792.5 618.8 786.3 619.4 776.3 626.9 766.3 636.9 760.0 636.3 753.8 631.9 748.8 631.9 754.4 636.3 755.0 638.8 746.3 651.3 744.4 658.1 736.9 665.0 735.6 670.0 728.1 676.3 730.6 685.0 728.8 688.8 718.8 695.6 717.5 698.8 706.9 703.8 706.3 711.3 710.0 720.0 708.1 732.5 696.3 737.5 690.6 741.9 Z M938.2 690.0 940.6 689.2 943.2 692.0 943.6 700.0 942.0 704.5 939.0 704.6 937.6 698.0 Z M1029.0 700.5 1031.3 700.0 1031.6 706.0 1030.6 710.0 Z M1033.0 712.5 1037.5 710.5 1038.0 716.0 1041.0 718.5 1034.0 720.5 Z M1066.8 757.5 1071.5 756.4 1072.7 773.1 1067.3 775.4 Z M978.8 831.9 983.8 826.9 989.4 826.9 988.1 832.5 991.9 837.5 986.3 838.1 Z M970.6 842.5 975.0 840.0 980.0 843.1 981.3 850.0 990.6 862.5 989.4 867.5 985.0 868.8 979.4 865.6 970.6 856.9 970.6 850.0 Z M1061.3 836.3 1066.3 833.1 1071.3 834.4 1073.8 840.0 1071.9 843.8 1077.5 846.9 1086.3 849.4 1091.3 853.8 1090.6 857.5 1081.3 857.5 1070.0 855.0 1062.5 851.9 1058.8 846.3 1058.8 840.0 Z M1063.3 834.8 1064.3 843.3 M862.9 286.0 862.9 300.0 857.5 304.2 857.1 307.9 866.7 312.9 869.2 318.3 867.1 326.3 870.8 331.3 875.0 328.8 883.3 311.7 883.8 305.0 892.5 302.5 895.0 291.7 895.5 286.0 M880.0 290.6 889.0 290.6 M849.6 320.8 844.2 326.3 843.8 331.7 840.4 335.8 839.6 342.1 835.4 350.0 826.7 360.0 820.8 364.2 814.2 375.0 811.7 384.2 813.8 388.8 821.3 388.3 826.7 390.4 833.3 389.6 840.0 382.1 843.3 370.0 844.2 361.7 850.0 356.7 856.7 356.3 855.8 353.3 852.9 351.7 862.5 333.3 862.5 328.3 859.6 325.0 854.2 329.2 851.7 325.0 Z M586.0 406.0 590.1 404.2 599.2 401.5 607.5 398.0 616.5 394.9 617.9 384.4 619.0 378.0 M620.5 377.0 621.0 381.0 622.4 384.4 629.0 383.4 637.0 383.4 639.4 371.9 642.6 366.0 645.0 362.0 M635.3 405.3 640.1 403.2 649.9 402.2 656.8 392.8 661.7 391.0 668.6 401.8 668.6 407.4 672.8 414.7 668.3 413.6 667.9 422.6 662.4 425.8 652.6 419.9 647.8 414.7 638.1 409.4 Z M546.8 919.2 553.6 919.2 557.5 928.6 546.9 931.7 Z M1206.0 930.2 1202.0 926.1 1203.8 920.4 1209.5 919.3 1205.5 915.8 1204.3 910.7 1207.2 905.5 1212.9 900.9 1215.8 896.9 1229.0 888.3 1242.1 883.2 1233.5 890.6 1224.4 900.4 1229.0 905.5 1234.1 911.3 1235.3 918.1 1220.4 918.7 1212.9 922.7 Z M1391.7 933.6 1376.2 932.4 1370.5 926.7 1337.8 911.8 1335.0 916.4 1347.6 922.7 1343.0 927.3 1322.9 916.4 1329.2 909.5 1312.6 902.1 1305.7 893.5 1300.0 903.2 1294.3 894.1 1284.0 888.3 1268.5 884.9 1261.0 886.6 1255.9 882.6 1249.0 883.2 1242.7 888.9 1235.8 892.9 1227.8 900.4 1235.8 905.5 1238.1 915.8 1235.3 922.7 1241.6 920.4 1252.5 922.7 1256.5 927.3 1257.6 933.6 1267.3 942.8 1269.1 951.4 1276.5 957.7 1281.1 952.5 1290.8 949.1 1298.3 954.2 1300.6 961.7 1297.1 968.0 1301.7 972.6 1310.9 977.7 1314.3 985.7 1314.3 994.3 1320.1 994.3 1318.9 989.2 1324.1 985.2 1335.0 988.6 1336.1 993.2 1328.1 999.5 1326.3 1006.3 1327.2 1012.5 1332.5 1014.1 1338.8 1018.8 1345.6 1020.6 1340.6 1028.1 1336.6 1037.5 1333.4 1045.0 1332.5 1053.1 1331.9 1058.8 1334.0 1064.0 M1212.9 984.6 1210.1 980.0 1212.3 971.4 1216.4 970.3 1215.8 963.4 1220.4 962.8 1222.7 965.1 1223.8 972.6 1217.5 977.1 1219.8 982.9 Z" fill="none" stroke="#a9a9a9" stroke-width="4.17" stroke-linejoin="round" stroke-linecap="butt"/>
</g>
<path d="M410.8 717.6 A504.0 504.0 0 1 1 410.8 866.2 Z" fill="none" stroke="#000" stroke-width="1.9" stroke-linejoin="round"/>
<rect x="1432.4" y="334.5" width="38.0" height="915.9" fill="url(#jet)"/>
<path d="M1432.4 334.5 L1451.4 288.9 L1470.4 334.5 Z" fill="#ff00ff"/>
<path d="M1432.4 1250.4 L1451.4 1296.0 L1470.4 1250.4 Z" fill="#808080"/>
<path d="M1432.4 334.5 L1451.4 288.9 L1470.4 334.5 L1470.4 1250.4 L1451.4 1296.0 L1432.4 1250.4 Z" fill="none" stroke="#000" stroke-width="3.3" stroke-linejoin="miter" stroke-miterlimit="10"/>
<path d="M1470.4 334.50 H1486.6 M1470.4 395.56 H1486.6 M1470.4 456.62 H1486.6 M1470.4 517.68 H1486.6 M1470.4 578.74 H1486.6 M1470.4 639.80 H1486.6 M1470.4 700.86 H1486.6 M1470.4 761.92 H1486.6 M1470.4 822.98 H1486.6 M1470.4 884.04 H1486.6 M1470.4 945.10 H1486.6 M1470.4 1006.16 H1486.6 M1470.4 1067.22 H1486.6 M1470.4 1128.28 H1486.6 M1470.4 1189.34 H1486.6 M1470.4 1250.40 H1486.6" stroke="#000" stroke-width="3.3" fill="none"/>
<g font-size="41.67" fill="#000"><text x="1499.8" y="348.9">4.0</text><text x="1499.8" y="410.0">3.5</text><text x="1499.8" y="471.0">3.0</text><text x="1499.8" y="532.1">2.5</text><text x="1499.8" y="593.1">2.0</text><text x="1499.8" y="654.2">1.5</text><text x="1499.8" y="715.3">1.0</text><text x="1499.8" y="776.3">0.5</text><text x="1499.8" y="837.4">0.0</text><text x="1499.8" y="898.4">−0.5</text><text x="1499.8" y="959.5">−1.0</text><text x="1499.8" y="1020.6">−1.5</text><text x="1499.8" y="1081.6">−2.0</text><text x="1499.8" y="1142.7">−2.5</text><text x="1499.8" y="1203.7">−3.0</text><text x="1499.8" y="1264.8">−3.5</text></g>
<text x="410.8" y="106.1" font-size="41.67" fill="#0000ff">KNMI / ACSAF / EUMETSAT</text>
<text x="410.8" y="176.9" font-size="37.5" fill="#000">GOME M03 O3MNAP</text>
<text x="410.8" y="217.1" font-size="33.33" fill="#000">Sensing Start: 2021-12-28T20:08:55 UTC</text>
<text x="911.8" y="263" font-size="41.67" fill="#000" text-anchor="middle">AAI [-]</text>
<g font-size="20.83" fill="#000" text-anchor="end"><text x="1413.3" y="83" xml:space="preserve">Plot created: </text><text x="1413.3" y="106.9">2021-12-29 02:36:57 UTC</text></g>
<g font-size="25" fill="#ff0000" text-anchor="end"><text x="1413.3" y="188.9">Plot filter:</text><text x="1413.3" y="216.8">[AAI_Orbit]</text><text x="1413.3" y="244.8">Scat Angle &gt; 90</text><text x="1413.3" y="272.6">Sunglint visible</text></g>
</svg>
</body></html>
